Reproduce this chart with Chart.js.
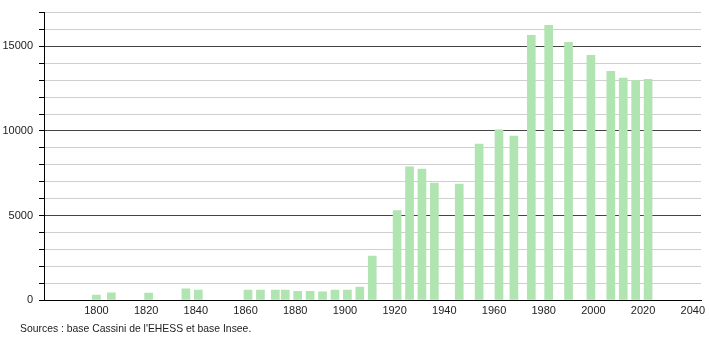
<!DOCTYPE html>
<html>
<head>
<meta charset="utf-8">
<script src="https://cdn.jsdelivr.net/npm/chart.js@4/dist/chart.umd.min.js"></script>
<style>
  html, body { margin: 0; padding: 0; background: #fff; }
  #wrap { position: relative; width: 710px; height: 340px; }
  #source {
    position: absolute; left: 20px; top: 323px;
    font: 10.4px "Liberation Sans", Arial, sans-serif; color: #222;
  }
</style>
</head>
<body>
<div id="wrap">
  <canvas id="myChart" width="710" height="340"></canvas>
  <div id="source">Sources : base Cassini de l'EHESS et base Insee.</div>
</div>
<script>
// années de recensement
const years = [1800, 1806, 1821, 1836, 1841, 1861, 1866, 1872, 1876, 1881, 1886, 1891,
  1896, 1901, 1906, 1911, 1921, 1926, 1931, 1936, 1946, 1954, 1962, 1968, 1975, 1982,
  1990, 1999, 2007, 2012, 2017, 2022];
// population
const population = [290, 430, 410, 665, 590, 590, 590, 590, 590, 510, 510, 490,
  590, 590, 765, 2600, 5290, 7880, 7750, 6920, 6860, 9220, 10060, 9690, 15650, 16240,
  15240, 14470, 13530, 13120, 12980, 13060];
const xTicks = [1800, 1820, 1840, 1860, 1880, 1900, 1920, 1940, 1960, 1980, 2000, 2020, 2040];
const yLabels = [0, 5000, 10000, 15000];

const font = { family: "'Liberation Sans', Arial, sans-serif", size: 11 };

const ctx = document.getElementById("myChart").getContext("2d");
window.myChart = new Chart(ctx, {
  type: "bar",
  data: {
    datasets: [{
      data: years.map((y, i) => ({ x: y, y: population[i] })),
      backgroundColor: "rgb(176, 228, 176)",
      borderWidth: 0,
      barThickness: 8,
    }],
  },
  options: {
    responsive: false,
    animation: false,
    layout: { padding: { top: 10, right: 9, left: 0, bottom: 0 } },
    plugins: {
      legend: { display: false },
      tooltip: { enabled: false },
    },
    scales: {
      x: {
        type: "linear",
        offset: false,
        min: 1778.9,
        max: 2043.3,
        afterBuildTicks: (scale) => { scale.ticks = xTicks.map(v => ({ value: v })); },
        afterFit: (scale) => { scale.height = 40; },
        grid: { display: false, drawTicks: false },
        border: { color: "#000", width: 1 },
        ticks: {
          font: font, color: "#222", padding: 4, maxRotation: 0, autoSkip: false,
          callback: (v) => String(v),
        },
      },
      y: {
        min: 0,
        max: 17000,
        afterFit: (scale) => { scale.width = 44; },
        grid: {
          color: (c) => (c.tick && c.tick.value % 5000 === 0 ? "#444" : "#cfcfcf"),
          tickColor: "#000",
          tickLength: 5,
        },
        border: { color: "#000", width: 1 },
        ticks: {
          stepSize: 1000,
          font: font,
          color: "#222",
          padding: 6,
          callback: (v) => (yLabels.includes(v) ? String(v) : ""),
        },
      },
    },
  },
});
</script>
</body>
</html>
